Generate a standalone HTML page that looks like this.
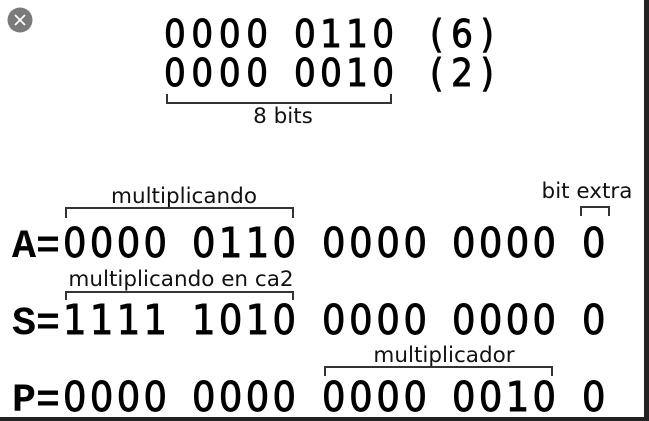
<!DOCTYPE html>
<html><head><meta charset="utf-8"><style>
html,body{margin:0;padding:0;background:#fff;width:649px;height:421px;overflow:hidden}
svg{display:block}
.d{font-family:"DejaVu Sans Condensed","DejaVu Sans","Liberation Sans",sans-serif;font-size:41px;fill:#000;stroke:#000;stroke-width:0.9}
.t{font-family:"DejaVu Sans Condensed","DejaVu Sans","Liberation Sans",sans-serif;font-size:38px;fill:#000;stroke:#000;stroke-width:0.9}
.l{font-family:"Liberation Mono",monospace;font-weight:bold;font-size:40px;fill:#000}
.s{font-family:"DejaVu Sans","Liberation Sans",sans-serif;font-size:21.5px;fill:#111}
</style></head><body>
<svg width="649" height="421" viewBox="0 0 649 421" xmlns="http://www.w3.org/2000/svg">
<rect width="649" height="421" fill="#fff"/>
<circle cx="20" cy="20" r="12.5" fill="#7a7a7a"/>
<path d="M15 15 L25 25 M25 15 L15 25" stroke="#fff" stroke-width="1.8"/>
<g class="t">
<text x="164" y="47" textLength="104" lengthAdjust="spacing">0000</text><text x="294" y="47" textLength="100" lengthAdjust="spacing">0110</text><text x="430" y="47" textLength="64" lengthAdjust="spacing">(6)</text>
<text x="164" y="86" textLength="104" lengthAdjust="spacing">0000</text><text x="294" y="86" textLength="100" lengthAdjust="spacing">0010</text><text x="430" y="86" textLength="64" lengthAdjust="spacing">(2)</text>
</g>
<path d="M167 94 V103 H391 V94" fill="none" stroke="#333" stroke-width="2"/>
<text class="s" x="283" y="123" text-anchor="middle">8 bits</text>

<text class="s" x="184" y="203" text-anchor="middle">multiplicando</text>
<path d="M66 218 V208 H293 V218" fill="none" stroke="#333" stroke-width="2"/>
<text class="s" x="587" y="198" text-anchor="middle">bit extra</text>
<path d="M581 216 V207 H609 V216" fill="none" stroke="#333" stroke-width="2"/>

<g class="d">
<text x="63" y="257" textLength="104" lengthAdjust="spacing">0000</text><text x="192" y="257" textLength="104" lengthAdjust="spacing">0110</text><text x="322" y="257" textLength="105" lengthAdjust="spacing">0000</text><text x="452" y="257" textLength="104" lengthAdjust="spacing">0000</text><text x="582" y="257">0</text>
<text x="63" y="334" textLength="104" lengthAdjust="spacing">1111</text><text x="192" y="334" textLength="104" lengthAdjust="spacing">1010</text><text x="322" y="334" textLength="105" lengthAdjust="spacing">0000</text><text x="452" y="334" textLength="104" lengthAdjust="spacing">0000</text><text x="582" y="334">0</text>
<text x="63" y="411" textLength="104" lengthAdjust="spacing">0000</text><text x="192" y="411" textLength="104" lengthAdjust="spacing">0000</text><text x="322" y="411" textLength="105" lengthAdjust="spacing">0000</text><text x="452" y="411" textLength="104" lengthAdjust="spacing">0010</text><text x="582" y="411">0</text>
</g>
<text class="l" x="12" y="257">A=</text>
<text class="s" x="181" y="286" text-anchor="middle">multiplicando en ca2</text>
<path d="M66 300 V292 H293 V300" fill="none" stroke="#333" stroke-width="2"/>
<text class="l" x="12" y="334">S=</text>
<text class="s" x="444" y="362" text-anchor="middle">multiplicador</text>
<path d="M325 376 V367 H552 V376" fill="none" stroke="#333" stroke-width="2"/>
<text class="l" x="12" y="411">P=</text>

<rect x="644" y="0" width="5" height="421" fill="#222"/>
<rect x="0" y="417" width="649" height="4" fill="#222"/>
</svg>
</body></html>
